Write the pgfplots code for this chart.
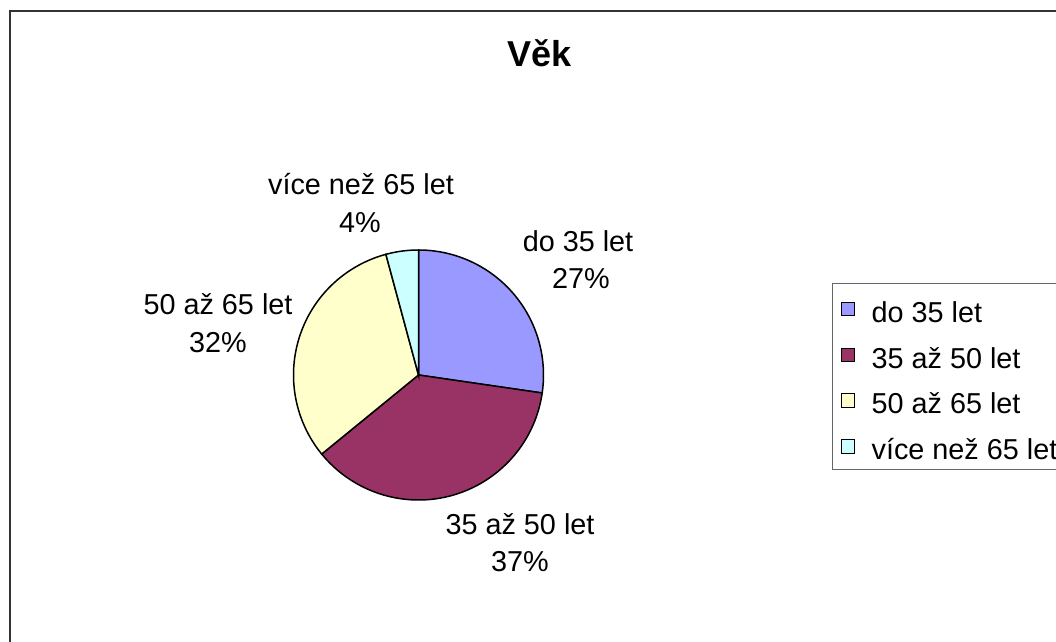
\documentclass[border=0pt]{standalone}
\usepackage{fontspec}
\setmainfont{Liberation Sans}
\usepackage{pgfplots}
\pgfplotsset{compat=1.18}
\usepackage{pgfplotstable}
\definecolor{cA}{HTML}{9999FF}
\definecolor{cB}{HTML}{993366}
\definecolor{cC}{HTML}{FFFFCC}
\definecolor{cD}{HTML}{CCFFFF}
\newcommand\lblfont{\fontsize{14.4}{17}\selectfont}

\pgfplotstableread{
share
27.3
36.8
31.7
4.2
}\agedata

\begin{document}
\begin{tikzpicture}[x=0.5pt,y=0.5pt]
\useasboundingbox (0,0) rectangle (1056,642);
\clip (0,0) rectangle (1056,642);
\pgfplotstablegetelem{0}{share}\of\agedata \pgfmathsetmacro\aA{90-3.6*\pgfplotsretval}
\pgfplotstablegetelem{1}{share}\of\agedata \pgfmathsetmacro\aB{\aA-3.6*\pgfplotsretval}
\pgfplotstablegetelem{2}{share}\of\agedata \pgfmathsetmacro\aC{\aB-3.6*\pgfplotsretval}
\pgfplotstablegetelem{3}{share}\of\agedata \pgfmathsetmacro\aD{\aC-3.6*\pgfplotsretval}
\begin{axis}[at={(0,0)}, anchor=origin, width=528pt, height=321pt, scale only axis,
  xmin=0, xmax=1056, ymin=0, ymax=642, hide axis, clip=false,
  legend style={at={(axis cs:832,359)}, anchor=north west, draw=black!60, line width=0.5pt,
    fill=white, inner xsep=4.35pt, inner ysep=3pt, row sep=4.35pt, column sep=0pt,
    font=\lblfont, cells={anchor=base west},
    nodes={inner sep=1pt, text height=15.5pt, text depth=1pt}},
  legend cell align=left,
  legend image code/.code={\draw[#1, line width=0.5pt] (0pt,-4pt) rectangle (6.6pt,2.8pt); \path (13.7pt,0pt);}
]
\addlegendimage{fill=cA,draw=black}
\addlegendentry{do 35 let}
\addlegendimage{fill=cB,draw=black}
\addlegendentry{35 až 50 let}
\addlegendimage{fill=cC,draw=black}
\addlegendentry{50 až 65 let}
\addlegendimage{fill=cD,draw=black}
\addlegendentry{více než 65 let\hspace{6pt}}

\filldraw[fill=cA, draw=black, line width=0.75pt] (axis cs:418.5,267) -- ++(90:62.5pt) arc[start angle=90, end angle=\aA, radius=62.5pt] -- cycle;
\filldraw[fill=cB, draw=black, line width=0.75pt] (axis cs:418.5,267) -- ++(\aA:62.5pt) arc[start angle=\aA, end angle=\aB, radius=62.5pt] -- cycle;
\filldraw[fill=cC, draw=black, line width=0.75pt] (axis cs:418.5,267) -- ++(\aB:62.5pt) arc[start angle=\aB, end angle=\aC, radius=62.5pt] -- cycle;
\filldraw[fill=cD, draw=black, line width=0.75pt] (axis cs:418.5,267) -- ++(\aC:62.5pt) arc[start angle=\aC, end angle=\aD, radius=62.5pt] -- cycle;

\node[anchor=base, font=\bfseries\fontsize{18}{21}\selectfont] at (axis cs:539.5,575) {Věk};
\node[anchor=base, font=\lblfont] at (axis cs:578,390) {do 35 let};
\node[anchor=base, font=\lblfont] at (axis cs:581,353) {27\%};
\node[anchor=base, font=\lblfont] at (axis cs:361,447) {více než 65 let};
\node[anchor=base, font=\lblfont] at (axis cs:360,409) {4\%};
\node[anchor=base, font=\lblfont] at (axis cs:218,327) {50 až 65 let};
\node[anchor=base, font=\lblfont] at (axis cs:218,289) {32\%};
\node[anchor=base, font=\lblfont] at (axis cs:520,107) {35 až 50 let};
\node[anchor=base, font=\lblfont] at (axis cs:520,70) {37\%};
\end{axis}
\draw[black!80, line width=1pt] (9.5,-10) -- (9.5,630.5) -- (1070,630.5);
\end{tikzpicture}
\end{document}
